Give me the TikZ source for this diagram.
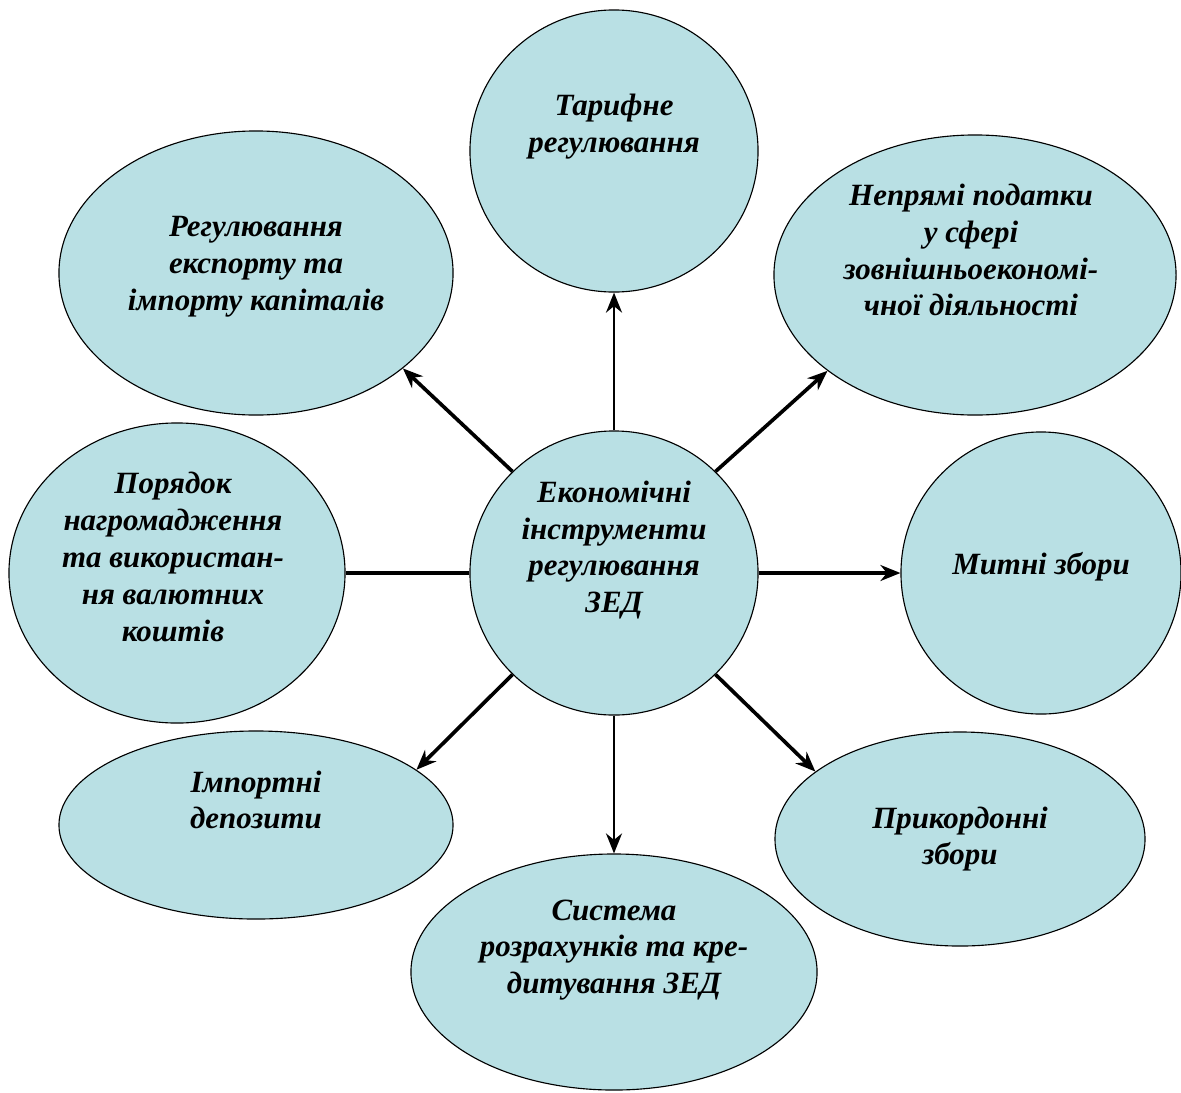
\documentclass[tikz,border=0pt]{standalone}
\usepackage{fontspec}
\setmainfont{Liberation Serif}
\usepackage{tikz}
\usetikzlibrary{positioning,shapes.geometric,arrows.meta}
\definecolor{bubblefill}{RGB}{185,224,228}

\begin{document}
\begin{tikzpicture}[x=0.025cm,y=-0.025cm,
        bubble/.style={draw,ellipse,fill=bubblefill,line width=0.8pt,inner sep=0pt},
        txt/.style={align=center,inner sep=0pt,font=\fontsize{22}{26.2}\selectfont\bfseries\itshape},
        link/.style={line width=2.6pt,-{Stealth[length=5mm,width=4mm]}}]
    \useasboundingbox (0,0) rectangle (1181,1092);
    % bubbles
    \node[bubble,minimum width=7.2cm,minimum height=7.1cm] (C) at (614,573) {};
    \node[bubble,minimum width=7.2cm,minimum height=7.05cm] (tar) at (614,151) {};
    \node[bubble,minimum width=9.85cm,minimum height=7.1cm] (reg) at (256,273) {};
    \node[bubble,minimum width=10.05cm,minimum height=7cm] (nepr) at (975,275) {};
    \node[bubble,minimum width=8.4cm,minimum height=7.5cm] (por) at (177,573) {};
    \node[bubble,minimum width=7cm,minimum height=7.05cm] (myt) at (1041,573) {};
    \node[bubble,minimum width=9.85cm,minimum height=4.7cm] (imp) at (256,825) {};
    \node[bubble,minimum width=9.25cm,minimum height=5.35cm] (prik) at (960,839) {};
    \node[bubble,minimum width=10.15cm,minimum height=5.9cm] (sys) at (614,972) {};
    % texts
    \node[txt] (C-t) at ([yshift=0.575cm]C) {Економічні\\інструменти\\регулювання\\ЗЕД};
    \node[txt] (tar-t) at ([yshift=0.6cm]tar) {Тарифне\\регулювання};
    \node[txt] (reg-t) at ([yshift=0.15cm]reg) {Регулювання\\експорту та\\імпорту капіталів};
    \node[txt] (nepr-t) at ([xshift=-0.1cm,yshift=0.625cm]nepr) {Непрямі податки\\у сфері\\зовнішньоекономі-\\чної діяльності};
    \node[txt] (por-t) at ([xshift=-0.1cm,yshift=0.4cm]por) {Порядок\\нагромадження\\та використан-\\ня валютних\\коштів};
    \node[txt] (myt-t) at ([yshift=0.15cm]myt) {Митні збори};
    \node[txt] (imp-t) at ([yshift=0.625cm]imp) {Імпортні\\депозити};
    \node[txt] (prik-t) at (prik) {Прикордонні\\збори};
    \node[txt] (sys-t) at ([yshift=0.55cm]sys) {Система\\розрахунків та кре-\\дитування ЗЕД};
    % connectors
    \draw[link,line width=1.8pt] (C.north) -- (tar.south);
    \draw[link,line width=1.8pt] (C.south) -- (sys.north);
    \draw[link,line width=2.2pt] (C.east) -- (myt.west);
    \draw[line width=2.2pt] (C.west) -- (por.east);
    \foreach \a/\n/\e in {135/reg/-33,45/nepr/-147,225/imp/19,-45/prik/155}
        \draw[link] (C.\a) -- (\n.\e);
\end{tikzpicture}
\end{document}
